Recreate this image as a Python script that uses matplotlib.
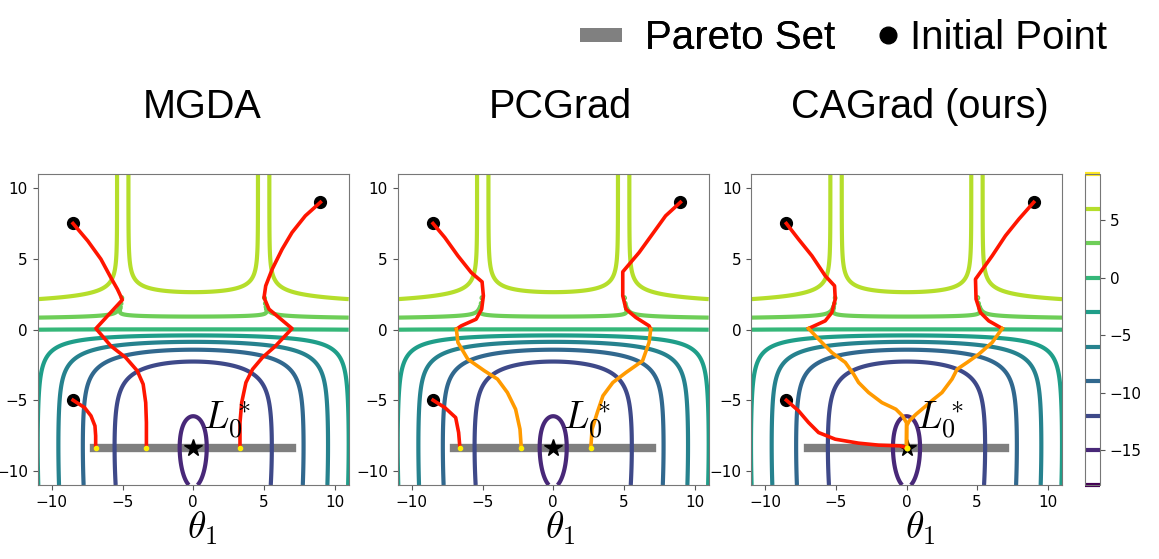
import matplotlib.pyplot as plt
import numpy as np
from matplotlib.lines import Line2D

plt.rcParams['mathtext.fontset'] = 'cm'

methods = ['MGDA', 'PCGrad', 'CAGrad (ours)']
init_points = [(-8.5, 7.5), (-8.5, -5.0), (9.0, 9.0)]
pareto_x = [-7.0, 7.0]
pareto_y = -8.3552
levels = [-18, -15, -12, -9, -6, -3, 0, 3, 6, 9]
cbar_ticks = [-15, -10, -5, 0, 5]
ticks = [-10, -5, 0, 5, 10]

# trajectories, (theta1, theta2)
mgda_a = [(-8.5, 7.5), (-7.46, 6.27), (-6.53, 4.98), (-5.83, 3.68), (-5.36, 2.85),
          (-5.01, 2.10), (-6.88, 0.07), (-5.83, -1.16), (-4.78, -1.98), (-3.96, -2.92),
          (-3.54, -3.87), (-3.36, -5.17), (-3.31, -6.58), (-3.31, -8.3552)]
mgda_b = [(9.0, 9.0), (7.93, 8.04), (6.99, 6.86), (6.29, 5.68), (5.59, 4.27),
          (5.13, 3.09), (5.01, 2.26), (5.36, 1.44), (6.99, 0.07), (5.83, -1.16),
          (4.90, -1.98), (4.20, -2.81), (3.73, -3.75), (3.43, -5.17), (3.31, -6.58),
          (3.31, -8.3552)]
mgda_c = [(-8.5, -5.0), (-7.69, -5.52), (-7.23, -6.11), (-6.95, -6.82), (-6.90, -7.52),
          (-6.90, -8.3552)]

pcgrad_a = [(-8.5, 7.5), (-7.67, 6.51), (-6.74, 5.21), (-5.80, 4.03), (-5.03, 3.37),
            (-4.94, 2.38), (-5.06, 1.44), (-5.45, 0.73), (-6.50, 0.26), (-6.85, 0.02),
            (-6.74, -0.92), (-6.04, -2.10), (-4.87, -2.92), (-3.94, -3.51), (-3.24, -4.46),
            (-2.66, -5.64), (-2.35, -7.05), (-2.26, -8.3552)]
pcgrad_b = [(9.0, 9.0), (7.95, 8.04), (7.02, 6.75), (6.08, 5.45), (4.92, 4.08),
            (4.92, 2.38), (5.15, 1.44), (5.85, 0.85), (6.78, 0.26), (6.90, 0.02),
            (6.78, -0.92), (6.32, -2.22), (5.15, -3.04), (4.22, -3.75), (3.52, -4.69),
            (3.12, -5.87), (2.75, -7.05), (2.66, -8.3552)]
pcgrad_c = [(-8.5, -5.0), (-7.67, -5.52), (-6.90, -6.23), (-6.69, -7.29), (-6.6, -8.3552)]

cagrad_a = [(-8.5, 7.5), (-7.64, 6.39), (-6.69, 5.21), (-5.75, 3.80), (-5.09, 3.09),
            (-5.04, 2.15), (-5.28, 1.20), (-5.75, 0.61), (-6.93, 0.07), (-6.22, -0.68),
            (-5.28, -1.63), (-4.33, -2.33), (-3.74, -3.16), (-3.39, -3.75), (-2.68, -4.46),
            (-1.74, -5.17), (-0.75, -5.64), (-0.28, -6.11), (0.0, -6.6), (0.0, -8.3552)]
cagrad_b = [(9.0, 9.0), (7.95, 7.81), (7.0, 6.63), (6.06, 5.21), (4.88, 3.56),
            (4.92, 2.15), (5.23, 1.20), (5.82, 0.61), (6.77, 0.07), (6.06, -0.92),
            (5.11, -1.75), (4.29, -2.33), (3.58, -2.81), (3.22, -3.51), (2.51, -4.46),
            (1.9, -4.95), (1.37, -5.41), (0.67, -6.0), (0.19, -6.47), (0.02, -6.8),
            (0.0, -8.3552)]
cagrad_c = [(-8.5, -5.0), (-7.64, -5.75), (-6.93, -6.58), (-6.22, -7.29), (-5.04, -7.76),
            (-3.39, -8.04), (-1.97, -8.18), (-0.44, -8.23), (0.0, -8.3552)]

paths = [[mgda_a, mgda_b, mgda_c], [pcgrad_a, pcgrad_b, pcgrad_c],
         [cagrad_a, cagrad_b, cagrad_c]]
# point where a path turns from red to orange (None = red all the way)
turns = [[None, None, None], [9, 9, None], [8, 8, None]]


def toy_loss(x1, x2):
    lower = 5e-6
    f1 = np.log(np.maximum(np.abs(0.5 * (-x1 - 7) - np.tanh(-x2)), lower)) + 6
    f2 = np.log(np.maximum(np.abs(0.5 * (-x1 + 3) + np.tanh(-x2) + 2), lower)) + 6
    c1 = np.maximum(np.tanh(x2 * 0.5), 0)
    f1_sq = ((-x1 + 7) ** 2 + 0.1 * (-x2 - 8) ** 2) / 10 - 20
    f2_sq = ((-x1 - 7) ** 2 + 0.1 * (-x2 - 8) ** 2) / 10 - 20
    c2 = np.maximum(np.tanh(-x2 * 0.5), 0)
    return (f1 * c1 + f1_sq * c2 + f2 * c1 + f2_sq * c2) / 2


n = 400
xs = np.linspace(-11, 11, n)
X, Y = np.meshgrid(xs, xs)
Z = toy_loss(X, Y)

W, H = 1159, 559
fig = plt.figure(figsize=(W / 100, H / 100), dpi=100)

lefts = [37.7, 397.7, 751.0]
title_x = [202, 560, 920]
for k in range(3):
    ax = fig.add_axes([lefts[k] / W, (H - 485) / H, 311 / W, 311 / H])
    cs = ax.contour(X, Y, Z, levels=levels, cmap='viridis', linewidths=3.0)
    ax.plot(pareto_x, [pareto_y, pareto_y], color='k', alpha=0.5, lw=6, zorder=0)
    ax.plot(0, pareto_y, '*', color='k', ms=13, zorder=4)
    for p in init_points:
        ax.plot(p[0], p[1], 'o', color='k', ms=8.5, zorder=5)
    for path, t in zip(paths[k], turns[k]):
        pts = np.array(path)
        if t is None:
            ax.plot(pts[:, 0], pts[:, 1], color='#ff1500', lw=2.6, zorder=6)
        else:
            ax.plot(pts[:t + 1, 0], pts[:t + 1, 1], color='#ff1500', lw=2.6, zorder=6)
            ax.plot(pts[t:, 0], pts[t:, 1], color='#ff9a00', lw=2.6, zorder=6)
        ax.plot(pts[-1, 0], pts[-1, 1], 'o', color='#ffee00', ms=3, zorder=7)
    ax.text(0.7, -7.0, r'$L_0^*$', fontsize=27, zorder=8)
    ax.set_xlim(-11, 11)
    ax.set_ylim(-11, 11)
    ax.set_xticks(ticks)
    ax.set_yticks(ticks)
    ax.tick_params(labelsize=11, color='#555555', length=3.5)
    for s in ax.spines.values():
        s.set_color('#777777')
    fig.text(title_x[k] / W, 1 - 107 / H, methods[k], fontsize=28.5,
             family='Liberation Sans', ha='center', va='center')
    fig.text(title_x[k] / W, 1 - 528 / H, r'$\theta_1$', fontsize=27,
             ha='center', va='center')

cax = fig.add_axes([1085 / W, (H - 485) / H, 15 / W, 311 / H])
cb = fig.colorbar(cs, cax=cax, ticks=cbar_ticks)
cb.ax.tick_params(labelsize=11, color='#555555')
cb.outline.set_edgecolor('#777777')

font = {'family': 'Liberation Sans', 'size': 29}
leg1 = fig.legend([Line2D([], [], color='gray', lw=10, solid_capstyle='butt')],
                  ['Pareto Set'],
                  loc='center left', bbox_to_anchor=(580 / W, 1 - 38 / H),
                  frameon=False, prop=font, borderpad=0, borderaxespad=0,
                  handlelength=1.04, handletextpad=0.57)
fig.add_artist(leg1)
fig.legend([Line2D([], [], ls='none', marker='o', color='k', ms=12)], ['Initial Point'],
           loc='center left', bbox_to_anchor=(880 / W, 1 - 38 / H),
           frameon=False, prop=font, borderpad=0, borderaxespad=0,
           handlelength=0.4, handletextpad=0.35)

fig.savefig('out.png', dpi=100)
